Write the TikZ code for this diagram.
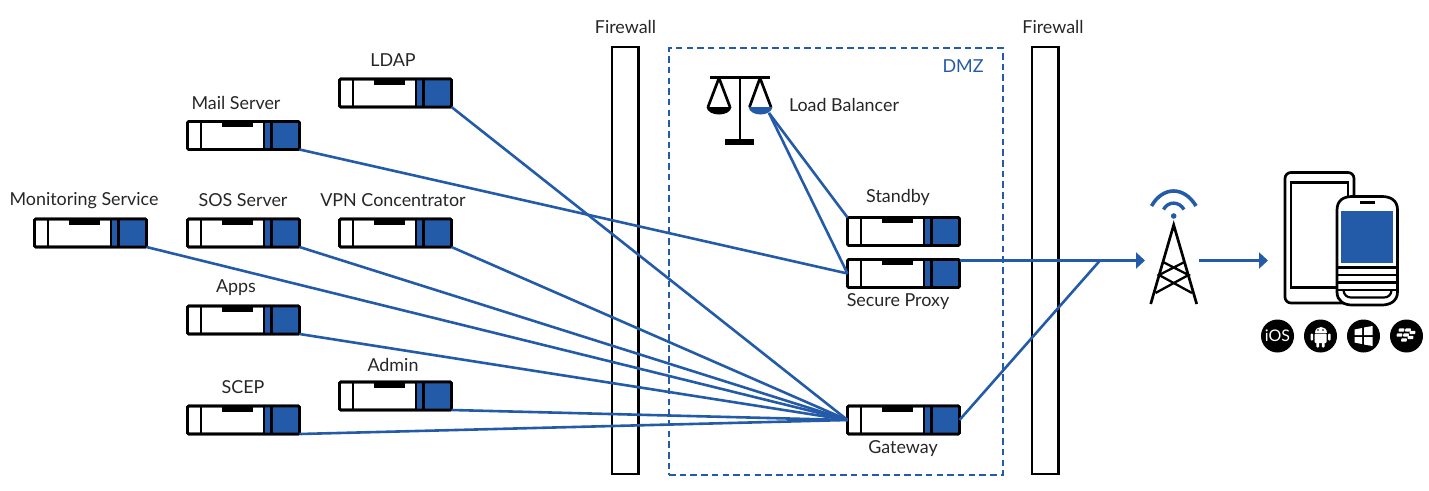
\documentclass[tikz,border=0pt]{standalone}
\usepackage{fontspec}
\setmainfont{Lato}
\usetikzlibrary{arrows.meta}
\definecolor{brandblue}{HTML}{235BA8}
\tikzset{
  srvbox/.style={draw=black,line width=2.6pt,rounded corners=1.2pt,fill=white,minimum width=112pt,minimum height=28pt,outer sep=0pt,inner sep=0pt},
  lbl/.style={font=\fontsize{17.9pt}{20pt}\selectfont,text=black!85,inner sep=0pt},
  link/.style={draw=brandblue,line width=2.6pt},
  arrowlink/.style={link,-{Triangle[length=9pt,width=16pt]}},
  wall/.style={draw=black,line width=2.4pt,fill=white,minimum width=26.5pt,minimum height=427pt,outer sep=0pt,inner sep=0pt},
  ink/.style={draw=black,line width=2.7pt},
  osdisc/.style={circle,fill=black,minimum size=33pt,inner sep=0pt,outer sep=0pt}
}
\newcommand{\srv}[3]{%
  \node[srvbox,anchor=north west] (#1) at (#2,#3) {};
  \begin{scope}[shift={(#1.north west)}]
    \fill[brandblue] (76.7,0) rectangle (112,28);
    \draw[black,line width=2.2pt] (13.3,0) -- (13.3,28);
    \draw[black,line width=1.6pt] (76.7,0) -- (76.7,28);
    \draw[black,line width=2.2pt] (84,0) -- (84,28);
    \fill[black] (34,0) rectangle (65,5.5);
    \draw[black,line width=2.6pt,rounded corners=1.2pt] (0,0) rectangle (112,28);
  \end{scope}}
\begin{document}
\begin{tikzpicture}[x=1pt,y=-1pt]
\useasboundingbox (0,0) rectangle (1429,490);
% firewalls and DMZ
\node[wall,anchor=north west] (fw1) at (612,47) {};
\node[wall,anchor=north west] (fw2) at (1032,47) {};
\node[draw=brandblue,line width=2pt,dash pattern=on 6.5pt off 4.2pt,minimum width=333.5pt,minimum height=427pt,anchor=north west,inner sep=0pt] (dmz) at (668,47) {};
\node[lbl] (fw1label) at (625.5,26.5) {Firewall};
\node[lbl] (fw2label) at (1053,26.5) {Firewall};
\node[lbl,text=brandblue] (dmzlabel) at (963,66) {DMZ};
% servers
\srv{ldap}{339.5}{79}
\srv{mail}{187.5}{121.5}
\srv{monitor}{34.5}{219}
\srv{sos}{187.5}{219}
\srv{vpn}{339.5}{219}
\srv{apps}{187.5}{306}
\srv{admin}{339.5}{382}
\srv{scep}{187.5}{406}
\srv{standby}{847.5}{217.5}
\srv{proxy}{847.5}{259.5}
\srv{gateway}{847.5}{406}
% labels
\node[lbl] (l1) at (393,60.5) {LDAP};
\node[lbl] (l2) at (236,102.5) {Mail Server};
\node[lbl] (l3) at (84,200.5) {Monitoring Service};
\node[lbl] (l4) at (243,200.5) {SOS Server};
\node[lbl] (l5) at (393,200.5) {VPN Concentrator};
\node[lbl] (l6) at (236,287.5) {Apps};
\node[lbl] (l7) at (393,364.5) {Admin};
\node[lbl] (l8) at (243,387.5) {SCEP};
\node[lbl] (l9) at (898,197.5) {Standby};
\node[lbl] (l10) at (898,301.5) {Secure Proxy};
\node[lbl] (l11) at (903,448.5) {Gateway};
\node[lbl] (l12) at (844,104.5) {Load Balancer};
% named free ends
\coordinate (lbout) at (769,113);
\coordinate (proxyout) at (960,260.5);
\coordinate (junction) at (1100,260.5);
\coordinate (towerin) at (1145,260.5);
\coordinate (towerout) at (1199,260.5);
\coordinate (phonein) at (1268,260.5);
% connectors
\draw[link] (ldap.south east) -- (gateway.west);
\draw[link] (monitor.south east) -- (gateway.west);
\draw[link] (sos.south east) -- (gateway.west);
\draw[link] (vpn.south east) -- (gateway.west);
\draw[link] (apps.south east) -- (gateway.west);
\draw[link] (admin.south east) -- (gateway.west);
\draw[link] (scep.south east) -- (gateway.west);
\draw[link] (mail.south east) -- (proxy.west);
\draw[link] (lbout) -- (standby.north west);
\draw[link] (lbout) -- (proxy.west);
\draw[link] (gateway.east) -- (junction);
\draw[arrowlink] (proxyout) -- (towerin);
\draw[arrowlink] (towerout) -- (phonein);
% scale icon
\draw[ink] (710,77.5) -- (770,77.5);
\draw[ink] (740,77.5) -- (740,140);
\fill[black] (725,139) rectangle (754,145);
\draw[ink,line join=round] (708,107) -- (719,78) -- (730,107);
\draw[ink,line join=round] (749.5,107) -- (760,78) -- (771,107);
\fill[black] (706.5,107) .. controls (708,117) and (730,117) .. (731.5,107) -- cycle;
\fill[brandblue] (748.5,107) .. controls (750,117) and (771,117) .. (772.5,107) -- cycle;
% tower
\draw[ink,line join=miter] (1150.7,304) -- (1173.7,225) -- (1196.7,304);
\draw[black,line width=2.3pt] (1163,262) -- (1188.5,275) -- (1155.5,293) (1184.5,262) -- (1159,275) -- (1192,293);
\fill[brandblue] (1173.7,216) circle (2.8);
\draw[brandblue,line width=3.4pt] (1163.5,209.5) .. controls (1168,201) and (1179,201) .. (1184,209.5);
\draw[brandblue,line width=3.6pt] (1151.5,206) .. controls (1163,186) and (1184,186) .. (1196,206);
% tablet
\draw[ink,rounded corners=6pt,fill=white] (1285,172.5) rectangle (1354,303);
\draw[ink] (1291,182.5) rectangle (1348,287.5);
% phone
\draw[ink,fill=white] (1337,210) .. controls (1337,200) and (1344,196.5) .. (1352,196.5) -- (1382,196.5) .. controls (1390,196.5) and (1397.5,200) .. (1397.5,210) -- (1397.5,292) .. controls (1397.5,301) and (1390,305) .. (1382,305) -- (1352,305) .. controls (1344,305) and (1337,301) .. (1337,292) -- cycle;
\fill[brandblue] (1341,211) rectangle (1393,263);
\fill[black] (1360,201.2) rectangle (1374.5,204.4);
\draw[black,line width=2.2pt] (1337,267.5) -- (1397.5,267.5) (1337,275) -- (1397.5,275) (1337,282.5) -- (1397.5,282.5) (1337,290) -- (1397.5,290);
\draw[black,line width=2.2pt] (1343.5,290.5) .. controls (1344,295) and (1347,297.5) .. (1351,297.5) -- (1384,297.5) .. controls (1388,297.5) and (1391,295) .. (1391.5,290.5);
% OS badges
\node[osdisc,text=white,font=\fontsize{16pt}{16pt}\selectfont] (ios) at (1277.5,336) {iOS};
\node[osdisc] (android) at (1320.5,336) {};
\node[osdisc] (windows) at (1363.5,336) {};
\node[osdisc] (bb) at (1406.5,336) {};
\begin{scope}[shift={(android.center)}]
  \fill[white] (-6,-3.5) .. controls (-6,-11) and (6,-11) .. (6,-3.5) -- cycle;
  \fill[white,rounded corners=1pt] (-6,-2.5) rectangle (6,7);
  \fill[white,rounded corners=1pt] (-10,-2.5) rectangle (-7.5,4.5);
  \fill[white,rounded corners=1pt] (7.5,-2.5) rectangle (10,4.5);
  \fill[white,rounded corners=1pt] (-4.2,6) rectangle (-1.4,11.5);
  \fill[white,rounded corners=1pt] (1.4,6) rectangle (4.2,11.5);
  \fill[black] (-2.5,-6) circle (0.8) (2.5,-6) circle (0.8);
\end{scope}
\begin{scope}[shift={(windows.center)}]
  \fill[white] (-9,-6.5) -- (-1.5,-8) -- (-1.5,-1) -- (-9,-1) -- cycle;
  \fill[white] (0.5,-8.5) -- (9,-10) -- (9,-1) -- (0.5,-1) -- cycle;
  \fill[white] (-9,1) -- (-1.5,1) -- (-1.5,8) -- (-9,6.5) -- cycle;
  \fill[white] (0.5,1) -- (9,1) -- (9,10) -- (0.5,8.5) -- cycle;
\end{scope}
\begin{scope}[shift={(bb.center)}]
  \foreach \a/\b in {-5/-6,1.5/-6,-7/-1,-0.5/-1,6/-3.5,4/1.5,-2.5/4}{
    \fill[white,rounded corners=0.8pt] (\a-2.6,\b-1.7) -- (\a+3,\b-1.7) -- (\a+2.6,\b+1.7) -- (\a-3,\b+1.7) -- cycle;
  }
\end{scope}
\end{tikzpicture}
\end{document}
